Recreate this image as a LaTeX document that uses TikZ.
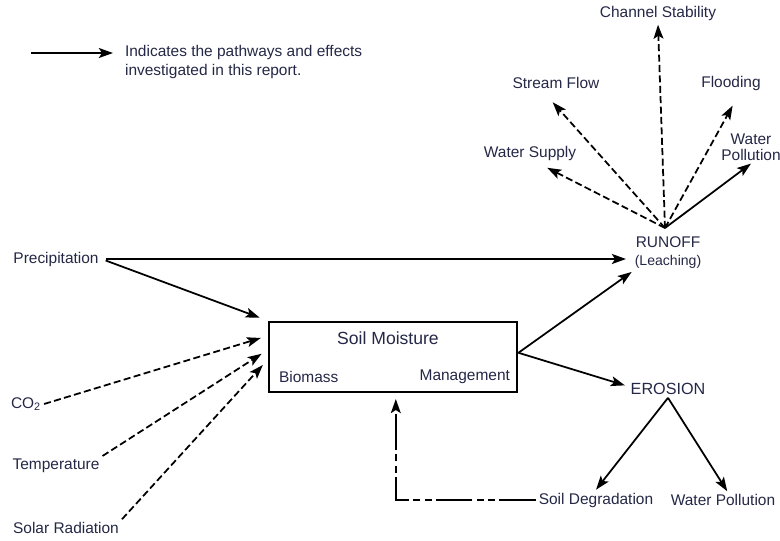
\documentclass[tikz,border=0pt]{standalone}
\usepackage{fontspec}
\setmainfont{Liberation Sans}
\usetikzlibrary{arrows.meta, positioning}

\definecolor{ink}{RGB}{36,40,70}

\tikzset{
	lbl/.style={text=ink, font=\fontsize{11}{14}\selectfont, inner sep=2pt},
	arr/.style={-{Stealth[length=10pt,width=7pt,inset=2.2pt]}, line width=1.25pt},
	darr/.style={arr, dash pattern=on 5pt off 2.4pt},
	fbarr/.style={arr, dash pattern=on 26pt off 3pt on 5pt off 3pt on 5pt off 3pt},
}

\begin{document}
\begin{tikzpicture}[x=0.025cm, y=-0.025cm]
	\useasboundingbox (0,0) rectangle (780,540);

	% legend
	\coordinate (k1) at (31,53);
	\coordinate (k2) at (113,53);
	\node[lbl, anchor=west, align=left] (legend) at (122,62) {Indicates the pathways and effects\\investigated in this report.};
	\draw[arr, line width=1.6pt] (k1) -- (k2);

	% effects of runoff
	\node[lbl] (chan) at (658,13) {Channel Stability};
	\node[lbl] (sflow) at (556,83) {Stream Flow};
	\node[lbl] (flood) at (731,83) {Flooding};
	\node[lbl] (wsup) at (530,153) {Water Supply};
	\node[lbl, align=center, font=\fontsize{11}{11.5}\selectfont] (wpolA) at (751,147) {Water\\Pollution};
	\coordinate (hub) at (665,228);
	\node[lbl, align=center, font=\fontsize{11}{12.8}\selectfont] (runoff) at (668,253) {RUNOFF\\{\fontsize{10}{12}\selectfont(Leaching)}};

	% inputs
	\node[lbl] (precip) at (56,259) {Precipitation};
	\node[lbl] (co2) at (26,404) {CO\textsubscript{2}};
	\node[lbl] (temp) at (56,466) {Temperature};
	\node[lbl] (solar) at (66,528) {Solar Radiation};

	% soil moisture box
	\node[draw, line width=2pt, minimum width=6.2cm, minimum height=1.75cm] (soil) at (393,357) {};
	\node[lbl, font=\fontsize{12.5}{14}\selectfont] (sm) at (388,338) {Soil Moisture};
	\node[lbl, anchor=west] (bio) at (276,377) {Biomass};
	\node[lbl, anchor=east] (mgmt) at (513,377) {Management};

	% erosion
	\node[lbl, font=\fontsize{11.5}{14}\selectfont] (erosion) at (668,389) {EROSION};
	\node[lbl] (sdeg) at (596,500) {Soil Degradation};
	\node[lbl] (wpolB) at (723,500) {Water Pollution};

	\draw[darr] (hub) -- ([yshift=-1pt]chan.south);
	\draw[darr, shorten >=10pt] (hub) -- ([xshift=-9pt]sflow.south);
	\draw[darr, shorten >=10pt] (hub) -- ([xshift=6pt]flood.south);
	\draw[darr, shorten >=7pt] (hub) -- ([xshift=6pt]wsup.south);
	\draw[arr] (hub) -- (wpolA.south);

	\draw[arr, line width=1.9pt, shorten >=4pt, shorten <=3pt] (precip.east) -- (precip.east -| runoff.west);
	\draw[arr, shorten >=6pt, shorten <=3pt] (precip.east) -- (soil.north west);
	\draw[darr, shorten >=5pt] (co2.east) -- ([yshift=15pt]soil.west);
	\draw[darr, shorten >=5pt] (temp.north east) -- ([yshift=5pt]soil.west);
	\draw[darr, shorten >=5pt] (solar.north east) -- ([yshift=-2pt]soil.west);

	\draw[arr] ([yshift=3pt]soil.east) -- (runoff.south west);
	\draw[arr, shorten >=2pt] ([yshift=3pt]soil.east) -- ([yshift=2pt]erosion.west);
	\draw[arr] (erosion.south) -- (sdeg.north);
	\draw[arr] (erosion.south) -- ([xshift=3pt]wpolB.north);
	\draw[fbarr, shorten >=4pt] (sdeg.west) -| ([xshift=2pt]soil.south);
\end{tikzpicture}
\end{document}
